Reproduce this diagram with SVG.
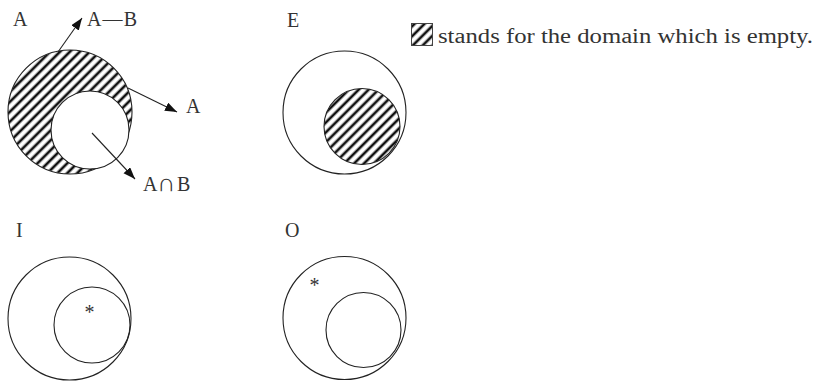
<svg xmlns="http://www.w3.org/2000/svg" width="819" height="381" viewBox="0 0 819 381">
  <defs>
    <pattern id="hatch" patternUnits="userSpaceOnUse" width="7" height="7" patternTransform="rotate(45)">
      <rect width="7" height="7" fill="#fff"/>
      <line x1="2" y1="-1" x2="2" y2="8" stroke="#111" stroke-width="2.7"/>
    </pattern>
    <marker id="arrow" markerUnits="userSpaceOnUse" markerWidth="13" markerHeight="10" refX="12" refY="4.5" orient="auto">
      <path d="M0,0 L12,4.5 L0,9 Z" fill="#111"/>
    </marker>
  </defs>
  <style>
    .c { fill: none; stroke: #222; stroke-width: 1.1; }
    .t { font-family: "Liberation Serif", "DejaVu Serif", serif; font-size: 20px; fill: #333; }
    .conn { stroke: #222; stroke-width: 1.1; fill: none; marker-end: url(#arrow); }
  </style>

  <g id="node-A">
    <circle cx="70" cy="112" r="62" fill="url(#hatch)" stroke="#222" stroke-width="1.1"/>
    <circle cx="90" cy="130" r="39" fill="#fff" stroke="#222" stroke-width="1.1"/>
    <text class="t" x="13" y="26">A</text>
    <text class="t" x="87" y="26" textLength="50" lengthAdjust="spacing">A—B</text>
    <text class="t" x="186" y="113">A</text>
    <text class="t" y="191"><tspan x="143">A</tspan><tspan x="157" font-size="25" font-family="'DejaVu Sans', sans-serif" font-weight="300">∩</tspan><tspan x="177">B</tspan></text>
  </g>

  <g id="node-E">
    <circle class="c" cx="344.5" cy="112.5" r="61.5"/>
    <circle cx="362" cy="126.5" r="38" fill="url(#hatch)" stroke="#222" stroke-width="1.1"/>
    <text class="t" x="287" y="27">E</text>
  </g>

  <g id="legend">
    <rect x="411.5" y="23.5" width="21" height="22" fill="url(#hatch)" stroke="#444" stroke-width="1"/>
    <text class="t" x="438" y="43" textLength="375" lengthAdjust="spacingAndGlyphs">stands for the domain which is empty.</text>
  </g>

  <g id="node-I">
    <circle class="c" cx="69.5" cy="318.5" r="61.5"/>
    <circle class="c" cx="92" cy="325" r="38"/>
    <text class="t" x="16" y="237">I</text>
    <text class="t" x="89.5" y="318.5" text-anchor="middle" font-size="22">*</text>
  </g>

  <g id="node-O">
    <circle class="c" cx="344.5" cy="318" r="61.5"/>
    <circle class="c" cx="363.5" cy="330" r="37.5"/>
    <text class="t" x="285" y="237">O</text>
    <text class="t" x="314.5" y="291.5" text-anchor="middle" font-size="22">*</text>
  </g>

  <g id="connectors">
    <line class="conn" x1="58" y1="52" x2="82" y2="18"/>
    <line class="conn" x1="128" y1="88" x2="177" y2="112"/>
    <line class="conn" x1="92" y1="133" x2="135" y2="179"/>
  </g>
</svg>
